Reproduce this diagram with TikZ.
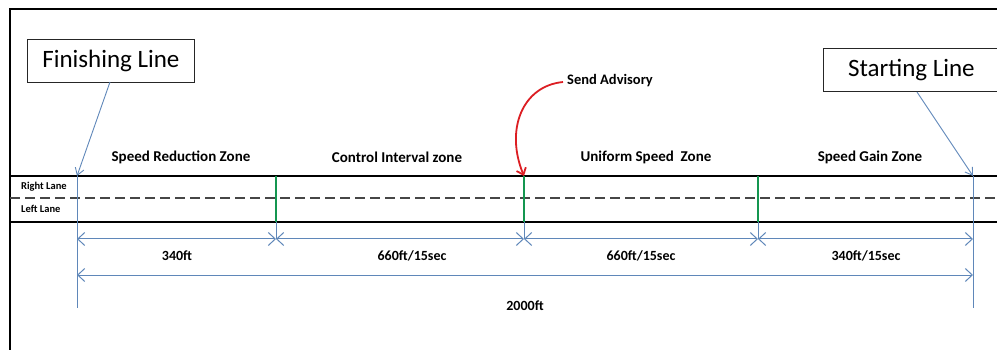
\documentclass[tikz,border=0pt]{standalone}
\usepackage{fontspec}
\setmainfont{Carlito}
\usetikzlibrary{arrows.meta}
\definecolor{dimblue}{RGB}{95,135,185}
\definecolor{zgreen}{RGB}{20,150,80}
\definecolor{advred}{RGB}{220,30,35}
\definecolor{dashgray}{RGB}{70,70,70}
\tikzset{
  frameline/.style={line width=2pt,black},
  roadline/.style={line width=1.3pt,black},
  laneline/.style={line width=1.3pt,dashgray,dash pattern=on 10pt off 5pt},
  greenbar/.style={line width=1.8pt,zgreen},
  bluebar/.style={line width=1pt,dimblue},
  dimline/.style={line width=1pt,dimblue,{Straight Barb[length=7pt,width=13pt]}-{Straight Barb[length=7pt,width=13pt]}},
  callout/.style={draw=black!85,line width=0.9pt,inner sep=0pt,minimum height=43pt,font=\fontsize{25}{27}\selectfont},
  pointer/.style={line width=0.9pt,dimblue,-{Straight Barb[length=7pt,width=9pt]}},
  zonelabel/.style={font=\bfseries\fontsize{15}{17}\selectfont,inner sep=0pt},
  dimlabel/.style={font=\bfseries\fontsize{14}{16}\selectfont,inner sep=0pt},
  lanelabel/.style={font=\bfseries\fontsize{10.5}{12}\selectfont,inner sep=0pt,anchor=west},
}
\begin{document}
\begin{tikzpicture}[x=1pt,y=-1pt]
\useasboundingbox (0,0) rectangle (997,350);
% frame
\coordinate (fTL) at (10,9);
\coordinate (fTR) at (998,9);
\coordinate (fBL) at (10,351);
\draw[frameline] (fBL) -- (fTL) -- (fTR);
% road
\coordinate (rTL) at (10,176); \coordinate (rTR) at (997,176);
\coordinate (rML) at (10,198); \coordinate (rMR) at (997,198);
\coordinate (rBL) at (10,222); \coordinate (rBR) at (997,222);
\draw[roadline] (rTL) -- (rTR);
\draw[roadline] (rBL) -- (rBR);
\draw[laneline] (rML) -- (rMR);
\node[lanelabel] (rl) at (21,187) {Right Lane};
\node[lanelabel] (ll) at (21,209) {Left Lane};
% zone boundaries
\coordinate (f1) at (77,176); \coordinate (f2) at (77,308);
\coordinate (g1t) at (276,176); \coordinate (g1b) at (276,222); \coordinate (g1d) at (276,239);
\coordinate (g2t) at (524,176); \coordinate (g2b) at (524,222); \coordinate (g2d) at (524,239);
\coordinate (g3t) at (758,176); \coordinate (g3b) at (758,222); \coordinate (g3d) at (758,239);
\coordinate (s1) at (973,176); \coordinate (s2) at (973,308);
\draw[bluebar] (f1) -- (f2);
\draw[bluebar] (s1) -- (s2);
\draw[bluebar] (g1b) -- (g1d);
\draw[bluebar] (g2b) -- (g2d);
\draw[bluebar] (g3b) -- (g3d);
\draw[greenbar] (g1t) -- (g1b);
\draw[greenbar] (g2t) -- (g2b);
\draw[greenbar] (g3t) -- (g3b);
% zone labels
\node[zonelabel] (z1) at (181,157) {Speed Reduction Zone};
\node[zonelabel] (z2) at (397,157) {Control Interval zone};
\node[zonelabel] (z3) at (646,157) {Uniform Speed\ \ Zone};
\node[zonelabel] (z4) at (870,157) {Speed Gain Zone};
% dimension lines
\coordinate (d0) at (77,239);
\coordinate (d4) at (973,239);
\draw[dimline] (d0) -- (g1d);
\draw[dimline] (g1d) -- (g2d);
\draw[dimline] (g2d) -- (g3d);
\draw[dimline] (g3d) -- (d4);
\coordinate (e0) at (77,275); \coordinate (e1) at (973,275);
\draw[dimline] (e0) -- (e1);
\node[dimlabel] (l1) at (177,256) {340ft};
\node[dimlabel] (l2) at (412,256) {660ft/15sec};
\node[dimlabel] (l3) at (641,256) {660ft/15sec};
\node[dimlabel] (l4) at (866,256) {340ft/15sec};
\node[dimlabel] (l5) at (525,306) {2000ft};
% callouts
\node[callout,anchor=north west,minimum width=167pt] (fin) at (27,39) {Finishing Line};
\node[callout,anchor=north west,minimum width=176pt] (start) at (823,48) {Starting Line};
\coordinate (finfrom) at (110,82);
\coordinate (startfrom) at (917,92);
\draw[pointer] (finfrom) -- (f1);
\draw[pointer] (startfrom) -- (s1);
% send advisory
\node[dimlabel,anchor=west,font=\bfseries\fontsize{14.5}{16}\selectfont] (adv) at (567,81) {Send Advisory};
\coordinate (advfrom) at (563,82);
\draw[line width=1.8pt,advred,-{Straight Barb[length=6pt,width=10pt]}]
  (advfrom) .. controls (522,86) and (505,130) .. (g2t);
\end{tikzpicture}
\end{document}
